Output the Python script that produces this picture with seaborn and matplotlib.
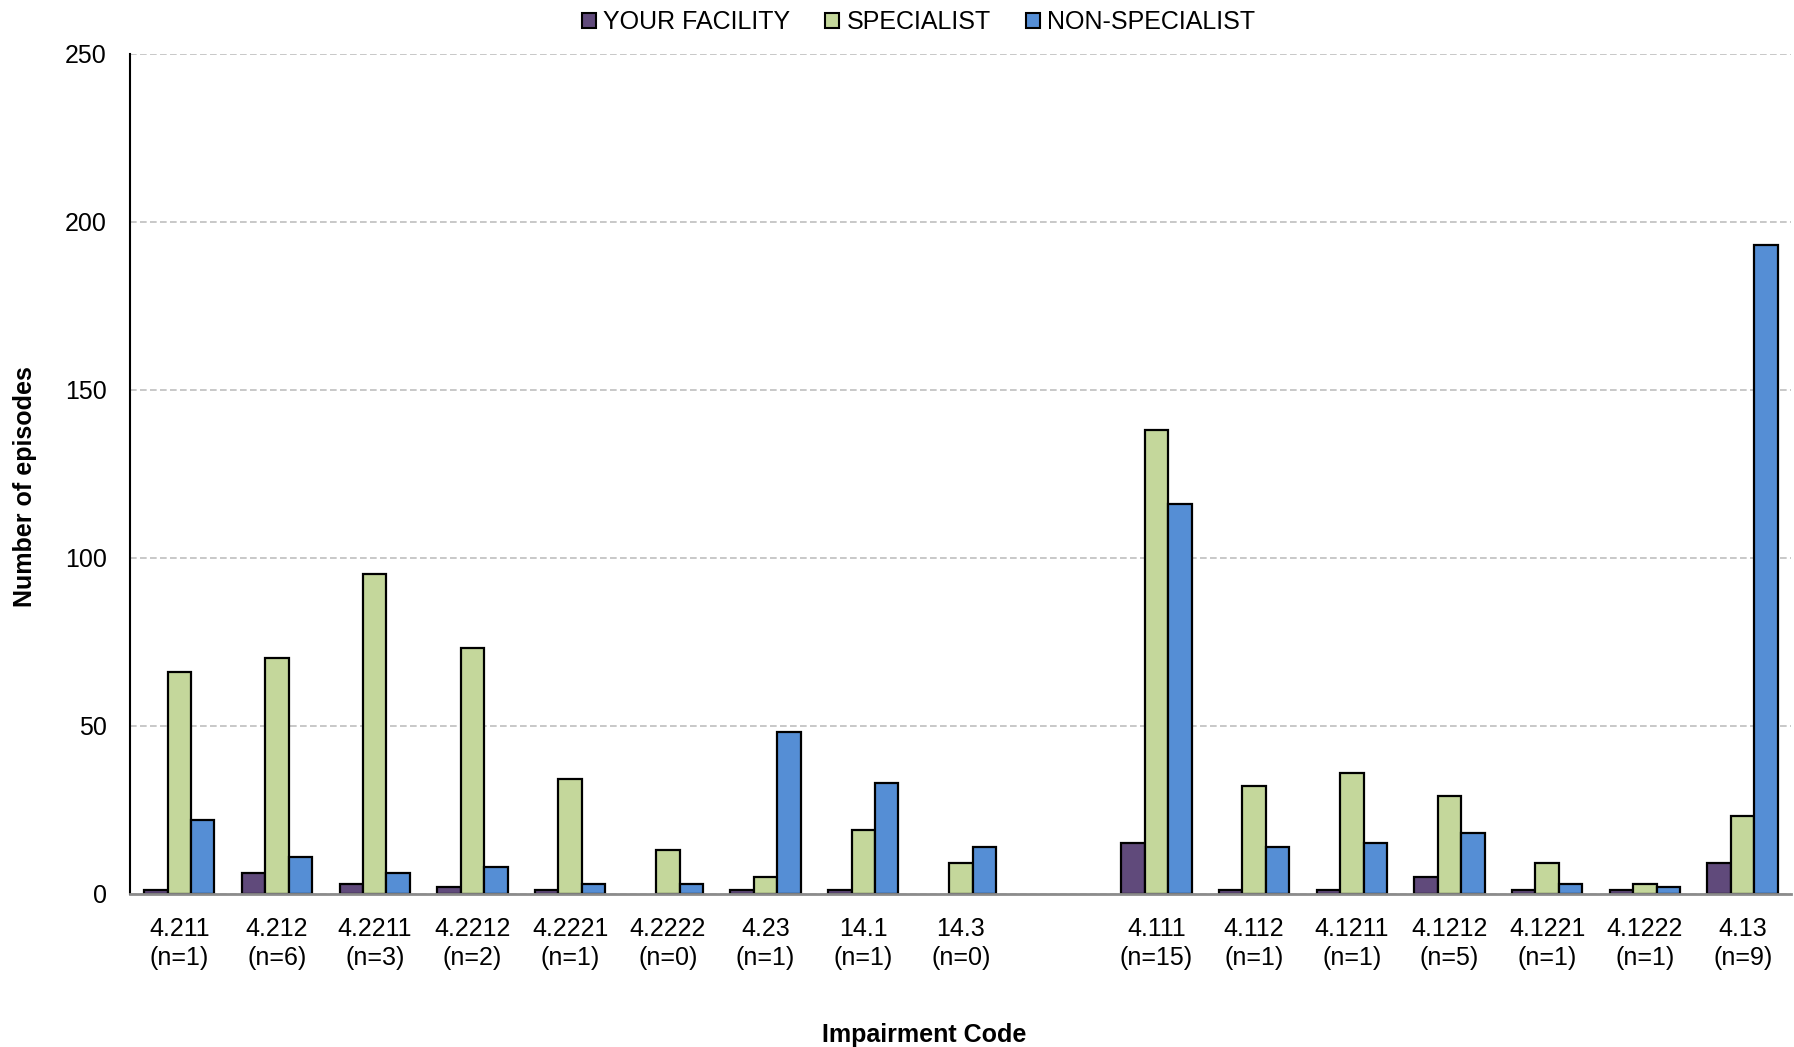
import pandas as pd
import seaborn as sns
import matplotlib.pyplot as plt
from matplotlib.patches import Patch

# kody uszkodzen i liczba epizodow (n)
kody = ['4.211', '4.212', '4.2211', '4.2212', '4.2221', '4.2222', '4.23', '14.1', '14.3',
        '4.111', '4.112', '4.1211', '4.1212', '4.1221', '4.1222', '4.13']
n_epizodow = [1, 6, 3, 2, 1, 0, 1, 1, 0, 15, 1, 1, 5, 1, 1, 9]

# wartosci serii
your_facility = [1, 6, 3, 2, 1, 0, 1, 1, 0, 15, 1, 1, 5, 1, 1, 9]
specialist = [66, 70, 95, 73, 34, 13, 5, 19, 9, 138, 32, 36, 29, 9, 3, 23]
non_specialist = [22, 11, 6, 8, 3, 3, 48, 33, 14, 116, 14, 15, 18, 3, 2, 193]

serie = ['YOUR FACILITY', 'SPECIALIST', 'NON-SPECIALIST']
kolory = ['#604A7B', '#C4D79B', '#558ED5']

etykiety = [f"{k}\n(n={n})" for k, n in zip(kody, n_epizodow)]

# ramka w formacie dlugim dla seaborna
wiersze = []
for et, a, b, c in zip(etykiety, your_facility, specialist, non_specialist):
    wiersze.append((et, serie[0], a))
    wiersze.append((et, serie[1], b))
    wiersze.append((et, serie[2], c))
df = pd.DataFrame(wiersze, columns=['kod', 'seria', 'wartosc'])

# pusta kategoria miedzy dwiema grupami
kolejnosc = etykiety[:9] + [' '] + etykiety[9:]

sns.set_style('white')
plt.rcParams['font.family'] = ['Liberation Sans Narrow', 'Liberation Sans', 'DejaVu Sans']

fig = plt.figure(figsize=(17.94, 10.47), dpi=100)
ax = fig.add_axes([0.0727, 0.1465, 0.9259, 0.8021])

sns.barplot(df, x='kod', y='wartosc', hue='seria', order=kolejnosc, hue_order=serie,
            palette=kolory, width=0.72, gap=0, edgecolor='black', linewidth=1.6,
            saturation=1, ax=ax, legend=False)

# slupki o zerowej wysokosci bez obramowania
for p in ax.patches:
    if p.get_height() == 0:
        p.set_linewidth(0)

ax.set_xlim(-0.5, len(kolejnosc) - 0.5)
ax.set_ylim(0, 250)
ax.set_yticks(range(0, 251, 50))
ax.yaxis.grid(True, linestyle=(0, (4, 2)), color='#BFBFBF', linewidth=1.2)
ax.set_axisbelow(True)

for s in ['top', 'right']:
    ax.spines[s].set_visible(False)
ax.spines['left'].set_color('black')
ax.spines['left'].set_linewidth(1.5)
ax.spines['bottom'].set_color('#8C8C8C')
ax.spines['bottom'].set_linewidth(2)

ax.tick_params(axis='x', length=0, pad=17, labelsize=18, labelcolor='black')
ax.tick_params(axis='y', length=0, pad=17, labelsize=18, labelcolor='black')
for t in ax.get_xticklabels():
    t.set_linespacing(1.25)

ax.set_xlabel('Impairment Code', fontsize=18, fontweight='bold', color='black')
ax.set_ylabel('Number of episodes', fontsize=18, fontweight='bold', color='black')
ax.xaxis.set_label_coords(0.478, -0.154)
ax.yaxis.set_label_coords(-0.056, 0.485)

uchwyty = [Patch(facecolor=k, edgecolor='black', linewidth=1.5) for k in kolory]
fig.legend(uchwyty, serie, loc='center', bbox_to_anchor=(0.512, 0.979), ncol=3,
           frameon=False, fontsize=18, handlelength=0.55, handleheight=0.55,
           handletextpad=0.3, columnspacing=1.4, labelcolor='black')

plt.savefig('out.png', dpi=100)
plt.close()
